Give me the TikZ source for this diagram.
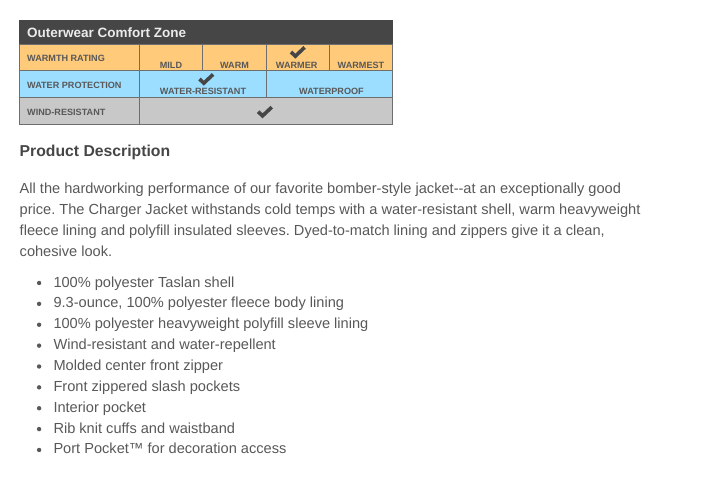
\documentclass[tikz,border=0pt]{standalone}
\usepackage{fontspec}
\setmainfont{Liberation Sans}
\usetikzlibrary{positioning}
\definecolor{headgray}{HTML}{464646}
\definecolor{warmfill}{HTML}{FFCA7A}
\definecolor{waterfill}{HTML}{9CDEFF}
\definecolor{windfill}{HTML}{C8C8C8}
\definecolor{linegray}{HTML}{6E6E6E}
\definecolor{bodytext}{HTML}{585858}
\tikzset{head/.style={draw=headgray,fill=headgray,minimum width=372.5pt,minimum height=24pt,anchor=north west,inner sep=0pt,outer sep=0pt}}
\tikzset{cell/.style={draw=linegray,line width=1pt,anchor=north west,inner sep=0pt,outer sep=0pt,minimum height=26.5pt}}
\tikzset{rowname/.style={text=bodytext,font=\fontsize{9.1}{10}\selectfont\bfseries,anchor=west,inner sep=0pt}}
\tikzset{collabel/.style={text=bodytext,font=\fontsize{9.1}{10}\selectfont\bfseries,anchor=base,inner sep=0pt}}
\tikzset{para/.style={text=bodytext,font=\fontsize{14.6}{17}\selectfont,anchor=base west,inner sep=0pt}}
\tikzset{item/.style={text=bodytext,font=\fontsize{14.6}{17}\selectfont,anchor=north west,inner sep=0pt,outer sep=0pt,text height=11pt,text depth=3pt,
    label={[dot,label distance=12pt]left:{}}}}
\tikzset{dot/.style={circle,fill=bodytext,inner sep=0pt,minimum size=4.4pt}}
\tikzset{tick/.style={draw=headgray,line width=3.6pt,line cap=butt,line join=miter}}
\newcommand{\tickmark}[1]{\draw[tick,shift={(#1)}] (-6.8,0) -- (-2.5,4.2) -- (6.8,-4.6);}
\frenchspacing
\begin{document}
\begin{tikzpicture}[x=1pt,y=-1pt]
    \useasboundingbox (0,0) rectangle (702,503);

    % table
    \node[head] (title) at (19.5,20.5) {};
    \node[anchor=west,text=white!92!black,font=\fontsize{13.5}{16}\selectfont\bfseries,inner sep=0pt] (titletext) at (27,32.5) {Outerwear Comfort Zone};

    \node[cell,fill=warmfill,minimum width=119.5pt] (warmth) at (19.5,44.5) {};
    \node[cell,fill=warmfill,minimum width=63.5pt] (mild) at (139,44.5) {};
    \node[cell,fill=warmfill,minimum width=63.5pt] (warm) at (202.5,44.5) {};
    \node[cell,fill=warmfill,minimum width=63pt] (warmer) at (266,44.5) {};
    \node[cell,fill=warmfill,minimum width=63pt] (warmest) at (329,44.5) {};

    \node[cell,fill=waterfill,minimum width=119.5pt] (water) at (19.5,71) {};
    \node[cell,fill=waterfill,minimum width=127pt] (resist) at (139,71) {};
    \node[cell,fill=waterfill,minimum width=126pt] (proof) at (266,71) {};

    \node[cell,fill=windfill,minimum width=119.5pt] (wind) at (19.5,97.5) {};
    \node[cell,fill=windfill,minimum width=253pt] (windall) at (139,97.5) {};

    \node[rowname] (warmthtext) at (27,58) {WARMTH RATING};
    \node[rowname] (watertext) at (27,85) {WATER PROTECTION};
    \node[rowname] (windtext) at (27,112) {WIND-RESISTANT};

    \node[collabel] (mildtext) at (171,68.5) {MILD};
    \node[collabel] (warmtext) at (234.5,68.5) {WARM};
    \node[collabel] (warmertext) at (296.7,68.5) {WARMER};
    \node[collabel] (warmesttext) at (361,68.5) {WARMEST};
    \node[collabel] (resisttext) at (203,95) {WATER-RESISTANT};
    \node[collabel] (prooftext) at (331.5,95) {WATERPROOF};

    \tickmark{297.8,52}
    \tickmark{206.3,79}
    \tickmark{265,111.7}

    % description
    \node[anchor=base west,inner sep=0pt,text=headgray,font=\fontsize{15.75}{18}\selectfont\bfseries] (heading) at (19.5,156) {Product Description};

    \node[para] (p1) at (19.5,193) {All the hardworking performance of our favorite bomber-style jacket{-}{-}at an exceptionally good};
    \node[para] (p2) at (19.5,214) {price. The Charger Jacket withstands cold temps with a water-resistant shell, warm heavyweight};
    \node[para] (p3) at (19.5,235) {fleece lining and polyfill insulated sleeves. Dyed-to-match lining and zippers give it a clean,};
    \node[para] (p4) at (19.5,256) {cohesive look.};

    % bullets
    \node[item] (b1) at (53.5,276) {100\% polyester Taslan shell};
    \node[item,below=6.87pt of b1.south west,anchor=north west] (b2) {9.3-ounce, 100\% polyester fleece body lining};
    \node[item,below=6.87pt of b2.south west,anchor=north west] (b3) {100\% polyester heavyweight polyfill sleeve lining};
    \node[item,below=6.87pt of b3.south west,anchor=north west] (b4) {Wind-resistant and water-repellent};
    \node[item,below=6.87pt of b4.south west,anchor=north west] (b5) {Molded center front zipper};
    \node[item,below=6.87pt of b5.south west,anchor=north west] (b6) {Front zippered slash pockets};
    \node[item,below=6.87pt of b6.south west,anchor=north west] (b7) {Interior pocket};
    \node[item,below=6.87pt of b7.south west,anchor=north west] (b8) {Rib knit cuffs and waistband};
    \node[item,below=6.87pt of b8.south west,anchor=north west] (b9) {Port Pocket™ for decoration access};
\end{tikzpicture}
\end{document}
